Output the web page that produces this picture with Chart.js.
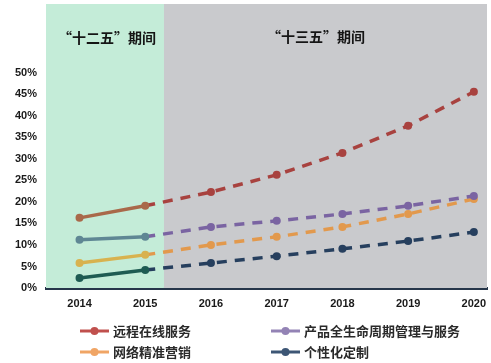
<!DOCTYPE html>
<html>
<head>
<meta charset="utf-8">
<script src="https://cdn.jsdelivr.net/npm/chart.js@4.4.1/dist/chart.umd.min.js"></script>
<style>
  html, body { margin: 0; padding: 0; background: #ffffff; }
  #wrap { width: 491px; height: 363px; position: relative; }
</style>
</head>
<body>
<div id="wrap"><canvas id="c" width="491" height="363"></canvas></div>
<script>
const years = ['2014', '2015', '2016', '2017', '2018', '2019', '2020'];
const remoteService = [16.3, 19.1, 22.3, 26.3, 31.4, 37.7, 45.6];
const lifecycleService = [11.2, 11.9, 14.2, 15.6, 17.2, 19.1, 21.4];
const precisionMarketing = [5.8, 7.7, 10.0, 11.9, 14.2, 17.2, 20.7];
const customization = [2.3, 4.2, 5.8, 7.4, 9.1, 10.9, 13.0];
const seriesNames = ['远程在线服务', '产品全生命周期管理与服务', '网络精准营销', '个性化定制'];
const yTicks = [0, 5, 10, 15, 20, 25, 30, 35, 40, 45, 50];
const periodNames = ['“十二五”期间', '“十三五”期间'];
const periodSplitYear = 2015.285;

const colors = ['#a8423f', '#7a64a2', '#e2994d', '#263f5e'];
const tints = ['#a9694a', '#5f8794', '#d8b24f', '#1e5b52'];
const legendColors = ['#c0504d', '#9383b5', '#f0a565', '#3d5675'];

const seriesData = [remoteService, lifecycleService, precisionMarketing, customization];

const datasets = seriesData.map((vals, si) => ({
  label: seriesNames[si],
  data: vals.map((v, i) => ({ x: +years[i], y: v })),
  borderColor: colors[si],
  borderWidth: 3.5,
  pointRadius: 4,
  pointHoverRadius: 4,
  pointBorderWidth: 0,
  pointBackgroundColor: vals.map((v, i) => +years[i] < periodSplitYear ? tints[si] : colors[si]),
  fill: false,
  tension: 0,
  clip: false,
  segment: {
    borderColor: ctx => ctx.p0DataIndex === 0 ? tints[si] : colors[si],
    borderDash: ctx => ctx.p0DataIndex === 0 ? [] : [10, 8]
  }
}));

const bgPlugin = {
  id: 'bgPlugin',
  beforeDatasetsDraw(chart) {
    const { ctx, chartArea, scales } = chart;
    const split = scales.x.getPixelForValue(periodSplitYear);
    ctx.save();
    ctx.fillStyle = '#c4ecd8';
    ctx.fillRect(chartArea.left, chartArea.top, split - chartArea.left, chartArea.bottom - chartArea.top);
    ctx.fillStyle = '#c9cacd';
    ctx.fillRect(split, chartArea.top, chartArea.right - split, chartArea.bottom - chartArea.top);
    ctx.fillStyle = '#151515';
    ctx.font = 'bold 14px "Noto Sans CJK SC"';
    ctx.textAlign = 'center';
    ctx.textBaseline = 'middle';
    ctx.fillText(periodNames[0], (chartArea.left + split) / 2 + 2, 38);
    ctx.fillText(periodNames[1], 316, 37);
    ctx.restore();
  },
  afterDraw(chart) {
    const { ctx } = chart;
    const cols = [80, 271];
    const rows = [331, 352];
    ctx.save();
    ctx.font = 'bold 13px "Noto Sans CJK SC"';
    ctx.textBaseline = 'middle';
    ctx.textAlign = 'left';
    const order = [[0, 0, 0], [1, 1, 0], [2, 0, 1], [3, 1, 1]];
    order.forEach(([si, c, r]) => {
      const x = cols[c], y = rows[r];
      ctx.strokeStyle = legendColors[si];
      ctx.lineWidth = 3;
      ctx.beginPath();
      ctx.moveTo(x, y);
      ctx.lineTo(x + 29, y);
      ctx.stroke();
      ctx.fillStyle = legendColors[si];
      ctx.beginPath();
      ctx.arc(x + 14.5, y, 4, 0, Math.PI * 2);
      ctx.fill();
      ctx.fillStyle = '#2a2a2a';
      ctx.fillText(seriesNames[si], x + 33, y);
    });
    ctx.restore();
  }
};

new Chart(document.getElementById('c'), {
  type: 'line',
  data: { datasets },
  options: {
    responsive: false,
    animation: false,
    events: [],
    layout: { padding: { top: 4, right: 0, left: 0, bottom: 0 } },
    plugins: { legend: { display: false }, tooltip: { enabled: false } },
    scales: {
      x: {
        type: 'linear',
        min: 2013.49,
        max: 2020.2,
        afterBuildTicks(scale) { scale.ticks = years.map(y => ({ value: +y })); },
        afterFit(scale) { scale.height = 75; scale.paddingRight = 0; scale.paddingLeft = 0; },
        grid: { display: false, drawTicks: false },
        border: { display: true, color: '#26364a', width: 3 },
        ticks: {
          padding: 9,
          color: '#1a1a1a',
          font: { family: '"Liberation Sans", Arial, sans-serif', size: 11, weight: 'bold' },
          callback: v => String(v),
          maxRotation: 0
        }
      },
      y: {
        min: 0,
        max: 66,
        afterBuildTicks(scale) { scale.ticks = yTicks.map(v => ({ value: v })); },
        afterFit(scale) { scale.width = 46; scale.paddingTop = 0; scale.paddingBottom = 0; },
        grid: { display: false, drawTicks: false },
        border: { display: false },
        ticks: {
          padding: 9,
          color: '#1a1a1a',
          font: { family: '"Liberation Sans", Arial, sans-serif', size: 11, weight: 'bold' },
          callback: v => v + '%'
        }
      }
    }
  },
  plugins: [bgPlugin]
});
</script>
</body>
</html>
